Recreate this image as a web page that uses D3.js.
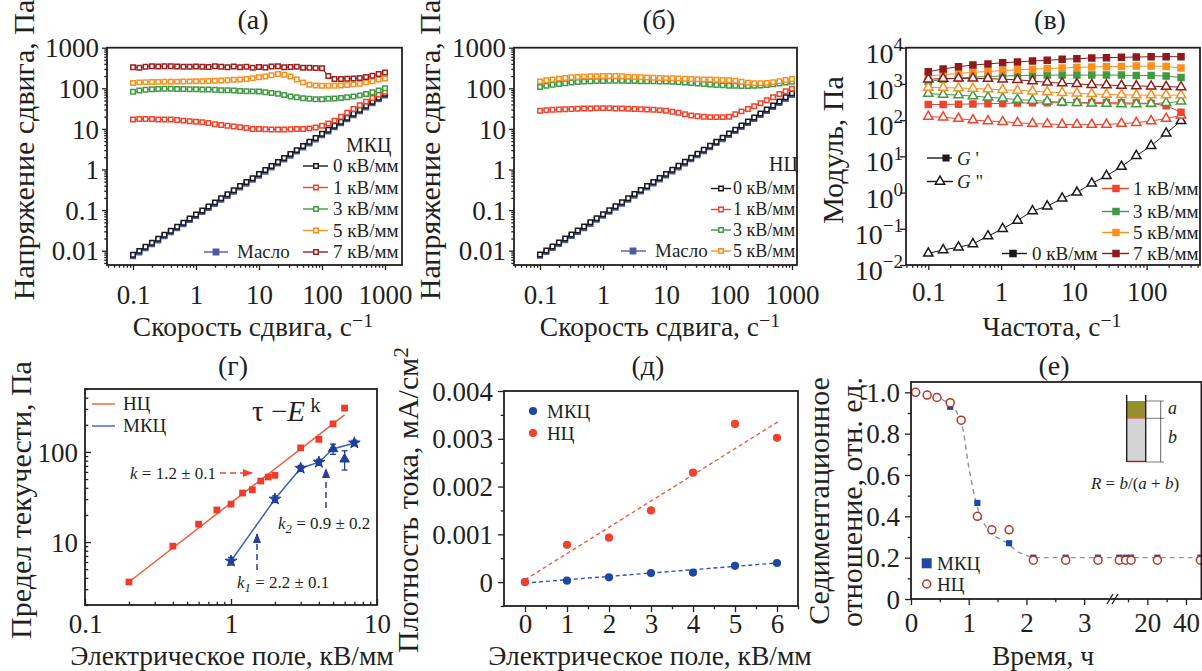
<!DOCTYPE html>
<html>
<head>
<meta charset="utf-8">
<script src="https://cdn.jsdelivr.net/npm/d3@7"></script>
<style>
  body { margin: 0; background: #fff; }
  text { font-family: "Liberation Serif", "Times New Roman", serif; fill: #231f20; }
</style>
</head>
<body>
<svg id="fig" width="1202" height="671"></svg>
<script>
// ---------- data ----------
// (а), (б): shear stress vs shear rate
const shearRate = [0.1, 0.126, 0.158, 0.2, 0.251, 0.316, 0.398, 0.501, 0.631, 0.794,
  1, 1.26, 1.58, 2, 2.51, 3.16, 3.98, 5.01, 6.31, 7.94,
  10, 12.6, 15.8, 20, 25.1, 31.6, 39.8, 50.1, 63.1, 79.4,
  100, 126, 158, 200, 251, 316, 398, 501, 631, 794, 1000];

const oilA = [0.0073, 0.0091, 0.0115, 0.0145, 0.018, 0.0228, 0.0285, 0.036, 0.045, 0.057,
  0.072, 0.09, 0.113, 0.142, 0.18, 0.225, 0.285, 0.36, 0.45, 0.56,
  0.71, 0.89, 1.12, 1.41, 1.77, 2.2, 2.8, 3.5, 4.4, 5.5,
  7.0, 8.7, 11, 13.8, 17.3, 21.7, 27.2, 34, 42.8, 54, 67];
const mkc0 = [0.0079, 0.0099, 0.0125, 0.0157, 0.0197, 0.0248, 0.031, 0.039, 0.049, 0.062,
  0.078, 0.098, 0.123, 0.155, 0.195, 0.245, 0.31, 0.39, 0.49, 0.61,
  0.77, 0.97, 1.22, 1.53, 1.92, 2.4, 3.0, 3.8, 4.8, 6.0,
  7.6, 9.5, 11.9, 15, 18.8, 23.6, 29.6, 37, 46.5, 58.5, 73];
const mkc1 = [17, 17.5, 17.5, 17.5, 17, 17, 17, 16.5, 16, 15.5,
  15, 14.5, 14, 13, 12.5, 12, 11.5, 11, 10.5, 10,
  10, 9.8, 9.7, 9.7, 9.7, 9.8, 9.9, 10, 10.3, 10.8,
  12, 13.5, 16, 20, 25, 31, 38, 47, 58, 70, 82];
const mkc3 = [82, 88, 92, 95, 96, 97, 97, 96, 96, 95,
  95, 94, 93, 92, 90, 89, 88, 86, 85, 84,
  83, 80, 77, 73, 68, 63, 60, 57, 55, 54,
  54, 55, 56, 58, 60, 63, 67, 72, 80, 88, 100];
const mkc5 = [135, 140, 142, 143, 144, 145, 145, 146, 147, 148,
  150, 150, 152, 153, 155, 157, 163, 165, 170, 178,
  188, 195, 210, 225, 215, 195, 165, 140, 122, 117,
  115, 115, 115, 117, 120, 125, 130, 140, 150, 165, 175];
const mkc7 = [330, 320, 340, 350, 345, 350, 350, 345, 340, 340,
  345, 340, 335, 350, 340, 330, 345, 330, 340, 320,
  335, 325, 345, 350, 330, 335, 340, 320, 320, 315,
  310, 200, 170, 170, 172, 175, 180, 190, 205, 225, 245];

const oilB = [0.0075, 0.0093, 0.0117, 0.0147, 0.0183, 0.023, 0.029, 0.036, 0.046, 0.058,
  0.073, 0.091, 0.115, 0.144, 0.182, 0.228, 0.287, 0.36, 0.455, 0.57,
  0.72, 0.9, 1.13, 1.42, 1.79, 2.25, 2.85, 3.55, 4.5, 5.6,
  7.1, 8.9, 11.2, 14, 17.6, 22, 27.7, 34.8, 43.6, 55, 69];
const nc0 = [0.0081, 0.0101, 0.0127, 0.016, 0.02, 0.025, 0.0315, 0.0395, 0.05, 0.063,
  0.079, 0.099, 0.125, 0.157, 0.197, 0.248, 0.312, 0.393, 0.495, 0.62,
  0.78, 0.98, 1.23, 1.55, 1.95, 2.45, 3.05, 3.85, 4.85, 6.1,
  7.7, 9.6, 12.1, 15.2, 19.1, 24, 30, 37.8, 47.5, 60, 75];
const nc1 = [28, 29, 29.5, 30, 30.5, 31, 31.5, 32, 32, 32.5,
  32.5, 32.5, 32, 32, 31.5, 31, 30.5, 30, 29.5, 29,
  28, 26.5, 25, 23, 21.5, 20.5, 20, 19.5, 19.5, 19.5,
  20, 23, 27, 31, 36, 43, 51, 60, 72, 85, 98];
const nc3 = [107, 115, 122, 128, 134, 139, 143, 146, 149, 151,
  152, 153, 153, 153, 152, 151, 150, 149, 148, 147,
  146, 144, 142, 139, 135, 131, 127, 124, 121, 118,
  116, 115, 114, 114, 115, 117, 120, 125, 131, 138, 145];
const nc5 = [148, 158, 166, 173, 180, 186, 190, 194, 197, 199,
  200, 202, 200, 197, 194, 191, 188, 185, 182, 180,
  178, 176, 174, 172, 170, 168, 166, 164, 162, 160,
  157, 153, 145, 138, 134, 133, 136, 142, 150, 160, 170];

// (в): moduli vs frequency
const freq = [0.1, 0.16, 0.26, 0.41, 0.66, 1.05, 1.68, 2.7, 4.3, 6.9, 11, 17.6, 28, 45, 72, 115, 185, 296];
const gp1 = [270, 270, 275, 280, 285, 290, 295, 300, 300, 305, 305, 305, 305, 300, 295, 290, 250, 165];
const gp3 = [1150, 1350, 1450, 1550, 1600, 1650, 1700, 1700, 1750, 1750, 1750, 1750, 1750, 1750, 1700, 1700, 1650, 1500];
const gp5 = [1650, 1800, 1950, 2100, 2200, 2350, 2450, 2550, 2650, 2750, 2850, 2950, 3000, 3050, 3100, 3100, 3050, 2750];
const gp7 = [2180, 2580, 2990, 3330, 3550, 3860, 4030, 4290, 4480, 4770, 4980, 5190, 5300, 5420, 5530, 5650, 5650, 5650];
const gpp0 = [0.021, 0.026, 0.031, 0.038, 0.063, 0.10, 0.17, 0.31, 0.42, 0.69, 1.01, 1.8, 2.9, 5.2, 10.4, 19.6, 43, 96];
const gpp1 = [125, 120, 110, 100, 95, 90, 85, 80, 78, 76, 75, 75, 76, 80, 85, 95, 110, 135];
const gpp3 = [540, 510, 490, 460, 430, 400, 370, 350, 330, 310, 300, 290, 285, 280, 280, 285, 300, 330];
const gpp5 = [800, 790, 770, 750, 720, 690, 660, 630, 600, 570, 550, 530, 510, 500, 490, 490, 490, 490];
const gpp7 = [1350, 1400, 1420, 1420, 1400, 1350, 1300, 1200, 1100, 1050, 1000, 950, 930, 900, 880, 860, 840, 820];

// (г): yield stress vs field
const fieldNC = [0.2, 0.4, 0.6, 0.8, 1.0, 1.2, 1.4, 1.6, 1.8, 2.0, 3, 4, 5, 6];
const yieldNC = [3.6, 9.0, 15.8, 22.7, 26.4, 35, 38, 47.6, 52.7, 55, 111, 138, 205, 307];
const fitNCx = [0.2, 6];
const fitNCy = [3.6, 258];
const fieldMKC = [1, 2, 3, 4, 5, 6, 7];
const yieldMKC = [6.15, 30, 66, 77, 108, 83, 126];
const errMKC = [0.6, 2.5, 5, 6, 14, 20, 9];
const shapeMKC = ["star", "star", "star", "star", "tri", "tri", "star"];

// (д): current density vs field
const fieldJ = [0, 1, 2, 3, 4, 5, 6];
const currentMKC = [0, 0.00003, 0.0001, 0.00019, 0.0002, 0.00034, 0.0004];
const currentNC = [0, 0.00078, 0.00093, 0.0015, 0.00229, 0.00331, 0.00302];
const fitJNCx = [0, 6.05], fitJNCy = [0.00005, 0.00337];
const fitJMKCx = [0, 6], fitJMKCy = [-0.00002, 0.0004];

// (е): sedimentation ratio vs time
const timeMKC = [0.68, 1.15, 1.7, 2.12, 2.68, 3.24, 6.2, 9.0, 11.6, 25.2, 47.5];
const sedMKC = [0.93, 0.465, 0.27, 0.2, 0.2, 0.2, 0.2, 0.2, 0.2, 0.2, 0.2];
const timeNC = [0.08, 0.28, 0.45, 0.68, 0.87, 1.15, 1.4, 1.7, 2.12, 2.68, 3.24, 6.2, 9.0, 11.6, 25.2, 47.5];
const sedNC = [1.0, 0.987, 0.975, 0.95, 0.865, 0.40, 0.335, 0.335, 0.188, 0.188, 0.188, 0.188, 0.188, 0.188, 0.188, 0.188];
const sedFitT = [0.08, 0.3, 0.5, 0.68, 0.8, 0.9, 1.0, 1.13, 1.33, 1.66, 1.89, 2.24, 3.24, 48];
const sedFitR = [1.0, 0.99, 0.97, 0.94, 0.9, 0.82, 0.64, 0.466, 0.337, 0.272, 0.223, 0.2, 0.2, 0.2];

// tick labels
const ticksShear = [0.1, 1, 10, 100, 1000];
const ticksStress = [0.01, 0.1, 1, 10, 100, 1000];
const ticksFreq = [0.1, 1, 10, 100];
const ticksModExp = [-2, -1, 0, 1, 2, 3, 4];
const ticksFieldLog = [0.1, 1, 10];
const ticksYield = [10, 100];
const ticksFieldLin = [0, 1, 2, 3, 4, 5, 6];
const ticksCurrent = [0, 0.001, 0.002, 0.003, 0.004];
const ticksTime = [0, 1, 2, 3, 20, 40];
const ticksSed = [0, 0.2, 0.4, 0.6, 0.8, 1.0];

// ---------- drawing ----------
const FONT = '"Liberation Serif", "Times New Roman", serif';
const INK = "#231f20";
const TICK_FS = 27, XT_FS = 27.5, YT_FS = 30, LEG_FS = 19, PANEL_FS = 28;
const ROW1_TICK = 39, ROW1_TITLE = 336, ROW2_TITLE = 665;
const svg = d3.select("#fig");

const C = {
  black: "#1a1a1a", red: "#f1432c", green: "#3f9a42", orange: "#f8901f",
  dred: "#9e1e1e", oil: "#4d58a6", blue: "#1f47a3", line: "#3b62b8", brown: "#b3362b"
};

function frame(x0, y0, x1, y1) {
  svg.append("rect").attr("x", x0).attr("y", y0).attr("width", x1 - x0).attr("height", y1 - y0)
    .attr("fill", "none").attr("stroke", INK).attr("stroke-width", 1.8);
}

function logMinors(lo, hi) {
  const out = [];
  for (let e = Math.floor(Math.log10(lo)) - 1; e <= Math.ceil(Math.log10(hi)); e++) {
    for (let m = 2; m <= 9; m++) {
      const v = m * Math.pow(10, e);
      if (v >= lo && v <= hi) out.push(v);
    }
  }
  return out;
}

function styleAxis(g) {
  g.attr("font-family", FONT).attr("font-size", TICK_FS);
  g.select(".domain").remove();
  g.selectAll("line").attr("stroke", INK).attr("stroke-width", 1.3);
  g.selectAll("text").attr("fill", INK);
}

function xAxis(scale, y, majors, fmt, minors, tick, labelY) {
  const gmin = svg.append("g").attr("transform", `translate(0,${y})`)
    .call(d3.axisBottom(scale).tickValues(minors).tickSize(tick * 0.55).tickSizeOuter(0).tickFormat(""));
  styleAxis(gmin);
  const g = svg.append("g").attr("transform", `translate(0,${y})`)
    .call(d3.axisBottom(scale).tickValues(majors).tickSize(tick).tickSizeOuter(0).tickFormat(fmt));
  styleAxis(g);
  g.selectAll(".tick text").attr("y", labelY).attr("dy", 0);
  return g;
}

function yAxis(scale, x, majors, fmt, minors, tick, gap) {
  const gmin = svg.append("g").attr("transform", `translate(${x},0)`)
    .call(d3.axisLeft(scale).tickValues(minors).tickSize(tick * 0.55).tickSizeOuter(0).tickFormat(""));
  styleAxis(gmin);
  const g = svg.append("g").attr("transform", `translate(${x},0)`)
    .call(d3.axisLeft(scale).tickValues(majors).tickSize(tick).tickSizeOuter(0).tickFormat(fmt));
  styleAxis(g);
  g.selectAll(".tick text").attr("x", -gap).attr("dy", "0.34em");
  return g;
}

function label(x, y, size, opts = {}) {
  const t = svg.append("text").attr("x", x).attr("y", y).attr("font-size", size)
    .attr("text-anchor", opts.anchor || "middle");
  if (opts.rotate) t.attr("transform", `rotate(-90,${x},${y})`);
  if (opts.color) t.attr("fill", opts.color);
  return t;
}

function parts(t, list) {
  list.forEach(([s, st]) => {
    const sp = t.append("tspan").text(s);
    if (st === "i") sp.attr("font-style", "italic");
    if (st === "sup") sp.attr("dy", "-0.45em").attr("font-size", "0.72em");
    if (st === "sub") sp.attr("dy", "0.3em").attr("font-size", "0.75em").attr("font-style", "italic");
    if (st === "unsub") sp.attr("dy", "-0.22em");
  });
  return t;
}

const SYM = {
  square: d3.symbolSquare, tri: d3.symbolTriangle, circle: d3.symbolCircle, star: d3.symbolStar
};

function series(xs, ys, sx, sy, color, sym, filled, size, opt = {}) {
  const pts = xs.map((x, i) => [x, ys[i]]);
  const g = svg.append("g");
  if (opt.line !== false) {
    g.append("path").datum(pts)
      .attr("d", d3.line().x(d => sx(d[0])).y(d => sy(d[1])))
      .attr("fill", "none").attr("stroke", opt.lineColor || color).attr("stroke-width", opt.lw || 1.2);
  }
  g.selectAll("path.m").data(pts).join("path").attr("class", "m")
    .attr("transform", d => `translate(${sx(d[0])},${sy(d[1])})`)
    .attr("d", d3.symbol(SYM[sym], size))
    .attr("fill", filled ? color : "#fff")
    .attr("stroke", opt.stroke || color).attr("stroke-width", opt.sw === undefined ? 1.5 : opt.sw);
  return g;
}

function legendRow(x1, x2, mx, y, color, sym, filled, size, txt, tx, fs) {
  svg.append("line").attr("x1", x1).attr("x2", x2).attr("y1", y).attr("y2", y)
    .attr("stroke", color).attr("stroke-width", 1.4);
  if (sym) {
    svg.append("path").attr("transform", `translate(${mx},${y})`).attr("d", d3.symbol(SYM[sym], size)())
      .attr("fill", filled ? color : "#fff").attr("stroke", color).attr("stroke-width", 1.5);
  }
  return svg.append("text").attr("x", tx).attr("y", y + fs * 0.33).attr("font-size", fs).text(txt);
}

const fmtPlain = d => String(d);
const minus = s => s.replace("-", "\u2212");

// ===== panel (а) =====
{
  const L = 107, T = 47.7, R = 402, B = 265;
  const x = d3.scaleLog().domain([Math.pow(10, -1 - 26 / 63), Math.pow(10, 3 + 17 / 63)]).range([L, R]);
  const y = d3.scaleLog().domain([Math.pow(10, -2 - 14.3 / 40.6), 1000]).range([B, T]);
  series(shearRate, oilA, x, y, C.oil, "square", true, 22);
  series(shearRate, mkc0, x, y, C.black, "square", false, 20);
  series(shearRate, mkc1, x, y, C.red, "square", false, 20);
  series(shearRate, mkc3, x, y, C.green, "square", false, 20);
  series(shearRate, mkc5, x, y, C.orange, "square", false, 20);
  series(shearRate, mkc7, x, y, C.dred, "square", false, 20);
  frame(L, T, R, B);
  xAxis(x, B, ticksShear, fmtPlain, logMinors(x.domain()[0], x.domain()[1]), 5, ROW1_TICK);
  yAxis(y, L, ticksStress, fmtPlain, logMinors(y.domain()[0], y.domain()[1]), 5, 8);
  label(253, 29, PANEL_FS).text("(a)");
  label(34, 150, YT_FS, { rotate: true }).text("Напряжение сдвига, Па");
  parts(label(253, ROW1_TITLE, XT_FS), [["Скорость сдвига, с"], ["\u22121", "sup"]]);
  svg.append("text").attr("x", 346).attr("y", 151.5).attr("font-size", 20).text("МКЦ");
  const rows = [[C.black, "0 кВ/мм", 166], [C.red, "1 кВ/мм", 187.5], [C.green, "3 кВ/мм", 209],
    [C.orange, "5 кВ/мм", 230.5], [C.dred, "7 кВ/мм", 252]];
  rows.forEach(([c, t, yy]) => legendRow(303, 328, 316, yy, c, "square", false, 20, t, 333, LEG_FS));
  legendRow(204, 228, 216, 252, C.oil, "square", true, 28, "Масло", 237, LEG_FS);
}

// ===== panel (б) =====
{
  const L = 514, T = 47.7, R = 797, B = 265;
  const x = d3.scaleLog().domain([Math.pow(10, -1 - 26 / 63), Math.pow(10, 3 + 5 / 63)]).range([L, R]);
  const y = d3.scaleLog().domain([Math.pow(10, -2 - 14.3 / 40.6), 1000]).range([B, T]);
  series(shearRate, oilB, x, y, C.oil, "square", true, 22);
  series(shearRate, nc0, x, y, C.black, "square", false, 20);
  series(shearRate, nc1, x, y, C.red, "square", false, 20);
  series(shearRate, nc3, x, y, C.green, "square", false, 20);
  series(shearRate, nc5, x, y, C.orange, "square", false, 20);
  frame(L, T, R, B);
  xAxis(x, B, ticksShear, fmtPlain, logMinors(x.domain()[0], x.domain()[1]), 5, ROW1_TICK);
  yAxis(y, L, ticksStress, fmtPlain, logMinors(y.domain()[0], y.domain()[1]), 5, 8);
  label(659, 29, PANEL_FS).text("(б)");
  label(440, 150, YT_FS, { rotate: true }).text("Напряжение сдвига, Па");
  parts(label(660, ROW1_TITLE, XT_FS), [["Скорость сдвига, с"], ["\u22121", "sup"]]);
  svg.append("text").attr("x", 798).attr("y", 170.5).attr("font-size", 20).attr("text-anchor", "end").text("НЦ");
  const rows = [[C.black, "0 кВ/мм", 188.5], [C.red, "1 кВ/мм", 209.5], [C.green, "3 кВ/мм", 230],
    [C.orange, "5 кВ/мм", 251]];
  rows.forEach(([c, t, yy]) => legendRow(711, 731, 721, yy, c, "square", false, 20, t, 733, 18));
  legendRow(621, 646, 633, 251, C.oil, "square", true, 28, "Масло", 655, LEG_FS);
}

// ===== panel (в) =====
{
  const L = 906, T = 47.7, R = 1200, B = 265;
  const x = d3.scaleLog().domain([Math.pow(10, -1 - 22.3 / 72.8), Math.pow(10, 2 + 53.3 / 72.8)]).range([L, R]);
  const y = d3.scaleLog().domain([1e-2, 1e4]).range([B, T]);
  series(freq, gpp0, x, y, C.black, "tri", false, 38, { lw: 1 });
  series(freq, gpp1, x, y, C.red, "tri", false, 38, { lw: 1 });
  series(freq, gp1, x, y, C.red, "square", true, 36, { lw: 1 });
  series(freq, gpp3, x, y, C.green, "tri", false, 38, { lw: 1 });
  series(freq, gp3, x, y, C.green, "square", true, 36, { lw: 1 });
  series(freq, gpp5, x, y, C.orange, "tri", false, 38, { lw: 1 });
  series(freq, gp5, x, y, C.orange, "square", true, 36, { lw: 1 });
  series(freq, gpp7, x, y, "#8e1b1b", "tri", false, 38, { lw: 1 });
  series(freq, gp7, x, y, "#8e1b1b", "square", true, 36, { lw: 1 });
  frame(L, T, R, B);
  xAxis(x, B, ticksFreq, fmtPlain, logMinors(x.domain()[0], x.domain()[1]), 5, 36);
  const ya = yAxis(y, L, ticksModExp.map(e => Math.pow(10, e)), "", [], 6, 3);
  ya.selectAll(".tick text").each(function (d, i) {
    const t = d3.select(this).attr("dy", "0.52em").attr("font-size", 28);
    t.append("tspan").text("10");
    t.append("tspan").attr("dy", "-0.62em").attr("font-size", 19).text(minus(String(ticksModExp[i])));
  });
  label(1050, 29, PANEL_FS).text("(в)");
  label(843, 150, YT_FS, { rotate: true }).text("Модуль, Па");
  parts(label(1052, ROW1_TITLE, XT_FS), [["Частота, с"], ["\u22121", "sup"]]);
  legendRow(927, 952, 946, 158, C.black, "square", true, 32, "", 957, LEG_FS);
  parts(svg.append("text").attr("x", 957).attr("y", 164.5).attr("font-size", 19), [["G", "i"], [" '"]]);
  legendRow(927, 953, 940, 181.5, C.black, "tri", false, 38, "", 957, LEG_FS);
  parts(svg.append("text").attr("x", 957).attr("y", 188).attr("font-size", 19), [["G", "i"], [" \""]]);
  const rows = [[C.red, "1 кВ/мм", 188.5], [C.green, "3 кВ/мм", 211.5], [C.orange, "5 кВ/мм", 232.5],
    ["#8e1b1b", "7 кВ/мм", 253.5]];
  rows.forEach(([c, t, yy]) => legendRow(1102, 1129, 1116, yy, c, "square", true, 36, t, 1133, LEG_FS));
  legendRow(1002, 1027, 1013, 253.5, C.black, "square", true, 36, "0 кВ/мм", 1032, LEG_FS);
}

// ===== panel (г) =====
{
  const L = 85, T = 389, R = 377, B = 605;
  const x = d3.scaleLog().domain([0.1, 10]).range([L, R]);
  const y = d3.scaleLog().domain([2, 500]).range([B, T]);
  svg.append("path").datum(fitNCx.map((v, i) => [v, fitNCy[i]]))
    .attr("d", d3.line().x(d => x(d[0])).y(d => y(d[1])))
    .attr("fill", "none").attr("stroke", "#f25a3c").attr("stroke-width", 1.5);
  series(fieldNC, yieldNC, x, y, "#ee3b2a", "square", true, 46, { line: false, sw: 0 });
  const lineIdx = [0, 1, 2, 3, 4, 6];
  svg.append("path").datum(lineIdx.map(i => [fieldMKC[i], yieldMKC[i]]))
    .attr("d", d3.line().x(d => x(d[0])).y(d => y(d[1])))
    .attr("fill", "none").attr("stroke", C.line).attr("stroke-width", 1.5);
  const eb = svg.append("g").attr("stroke", "#1f3f9a").attr("stroke-width", 1.3);
  fieldMKC.forEach((f, i) => {
    const y1 = y(yieldMKC[i] + errMKC[i]), y2 = y(yieldMKC[i] - errMKC[i]);
    eb.append("line").attr("x1", x(f)).attr("x2", x(f)).attr("y1", y1).attr("y2", y2);
    eb.append("line").attr("x1", x(f) - 3).attr("x2", x(f) + 3).attr("y1", y1).attr("y2", y1);
    eb.append("line").attr("x1", x(f) - 3).attr("x2", x(f) + 3).attr("y1", y2).attr("y2", y2);
  });
  svg.append("g").selectAll("path").data(fieldMKC).join("path")
    .attr("transform", (d, i) => `translate(${x(d)},${y(yieldMKC[i])})`)
    .attr("d", (d, i) => d3.symbol(SYM[shapeMKC[i]], shapeMKC[i] === "tri" ? 40 : 42)())
    .attr("fill", "#1f3f9a").attr("stroke", "#1f3f9a").attr("stroke-width", 1);
  frame(L, T, R, B);
  xAxis(x, B, ticksFieldLog, fmtPlain, logMinors(0.1, 10), -6, 28);
  yAxis(y, L, ticksYield, fmtPlain, logMinors(2, 500), -6, 7);
  label(233, 375, PANEL_FS).text("(г)");
  label(31, 500, YT_FS, { rotate: true }).text("Предел текучести, Па");
  label(232, ROW2_TITLE, XT_FS).text("Электрическое поле, кВ/мм");
  legendRow(92, 115, null, 404, "#f25a3c", null, false, 0, "НЦ", 123, LEG_FS);
  legendRow(92, 115, null, 426, C.line, null, false, 0, "МКЦ", 123, LEG_FS);
  parts(svg.append("text").attr("x", 252).attr("y", 421).attr("font-size", 29),
    [["\u03c4 \u2212"], ["E", "i"], [" k", "sup"]]);
  const defs = svg.append("defs");
  [["ar", "#f0432c"], ["ab", "#2c3d9e"]].forEach(([id, c]) => {
    defs.append("marker").attr("id", id).attr("viewBox", "0 0 10 10").attr("refX", 9).attr("refY", 5)
      .attr("markerWidth", 7).attr("markerHeight", 7).attr("orient", "auto")
      .append("path").attr("d", "M0,1 L10,5 L0,9 Z").attr("fill", c);
  });
  const arrow = (x1, y1, x2, y2, c, m) => svg.append("line").attr("x1", x1).attr("y1", y1).attr("x2", x2).attr("y2", y2)
    .attr("stroke", c).attr("stroke-width", 1.5).attr("stroke-dasharray", "6,4").attr("marker-end", `url(#${m})`);
  arrow(220, 473, 252, 473, "#f0432c", "ar");
  arrow(326, 508, 326, 469, "#2c3d9e", "ab");
  arrow(257, 570, 257, 534, "#2c3d9e", "ab");
  parts(svg.append("text").attr("x", 130).attr("y", 479).attr("font-size", 17).attr("fill", "#f0432c"),
    [["k", "i"], [" = 1.2 \u00b1 0.1"]]);
  parts(svg.append("text").attr("x", 278).attr("y", 529).attr("font-size", 17).attr("fill", "#2c3d9e"),
    [["k", "i"], ["2", "sub"], [" = 0.9 \u00b1 0.2", "unsub"]]);
  parts(svg.append("text").attr("x", 237).attr("y", 588).attr("font-size", 17).attr("fill", "#2c3d9e"),
    [["k", "i"], ["1", "sub"], [" = 2.2 \u00b1 0.1", "unsub"]]);
}

// ===== panel (д) =====
{
  const L = 504, T = 391, R = 798, B = 606;
  const x = d3.scaleLinear().domain([-0.5, 6.5]).range([L, R]);
  const y = d3.scaleLinear().domain([-0.0005, 0.004]).range([B, T]);
  const dline = (xs, ys, c) => svg.append("path").datum(xs.map((v, i) => [v, ys[i]]))
    .attr("d", d3.line().x(d => x(d[0])).y(d => y(d[1])))
    .attr("fill", "none").attr("stroke", c).attr("stroke-width", 1.4).attr("stroke-dasharray", "4,3");
  dline(fitJNCx, fitJNCy, "#f05a40");
  dline(fitJMKCx, fitJMKCy, "#2f55b0");
  svg.append("g").selectAll("circle").data(fieldJ).join("circle")
    .attr("cx", d => x(d)).attr("cy", (d, i) => y(currentMKC[i])).attr("r", 4.1).attr("fill", C.blue);
  svg.append("g").selectAll("circle").data(fieldJ).join("circle")
    .attr("cx", d => x(d)).attr("cy", (d, i) => y(currentNC[i])).attr("r", 4.1).attr("fill", "#f0412b");
  frame(L, T, R, B);
  xAxis(x, B, ticksFieldLin, fmtPlain, [0.5, 1.5, 2.5, 3.5, 4.5, 5.5, 6.5], 6, 27);
  yAxis(y, L, ticksCurrent, fmtPlain, [-0.0005, 0.0005, 0.0015, 0.0025, 0.0035], 6, 11);
  label(648, 375, PANEL_FS).text("(д)");
  parts(label(418, 500, YT_FS, { rotate: true }), [["Плотность тока, мА/см"], ["2", "sup"]]);
  label(650, ROW2_TITLE, XT_FS).text("Электрическое поле, кВ/мм");
  svg.append("circle").attr("cx", 533).attr("cy", 411).attr("r", 4.1).attr("fill", C.blue);
  svg.append("text").attr("x", 547).attr("y", 417.5).attr("font-size", LEG_FS).text("МКЦ");
  svg.append("circle").attr("cx", 533).attr("cy", 433).attr("r", 4.1).attr("fill", "#f0412b");
  svg.append("text").attr("x", 547).attr("y", 439.5).attr("font-size", LEG_FS).text("НЦ");
}

// ===== panel (е) =====
{
  const L = 911, T = 382, R = 1202, B = 599;
  const x = d3.scaleLinear().domain([0, 3.5, 10, 48.3]).range([L, 1113, 1128, R]);
  const y = d3.scaleLinear().domain([0, 1.05]).range([B, T]);
  svg.append("path").datum(sedFitT.map((t, i) => [t, sedFitR[i]]))
    .attr("d", d3.line().x(d => x(d[0])).y(d => y(d[1])).curve(d3.curveMonotoneX))
    .attr("fill", "none").attr("stroke", "#8d949b").attr("stroke-width", 1.4).attr("stroke-dasharray", "5,4");
  series(timeMKC, sedMKC, x, y, C.blue, "square", true, 38, { line: false, sw: 0 });
  svg.append("g").selectAll("circle").data(timeNC).join("circle")
    .attr("cx", d => x(d)).attr("cy", (d, i) => y(sedNC[i])).attr("r", 4)
    .attr("fill", "#fff").attr("stroke", C.brown).attr("stroke-width", 1.5);
  svg.append("rect").attr("x", R - 1.5).attr("y", T).attr("width", 2).attr("height", B - T).attr("fill", INK);
  frame(L, T, R + 2, B);
  xAxis(x, B, ticksTime, fmtPlain, [0.5, 1.5, 2.5, 10, 30], 6, 33);
  [-3, 2].forEach(dx => svg.append("line").attr("x1", 1113 + dx - 3).attr("y1", B + 5).attr("x2", 1113 + dx + 3).attr("y2", B - 5)
    .attr("stroke", INK).attr("stroke-width", 1.3));
  yAxis(y, L, ticksSed, d => d === 0 ? "0" : d.toFixed(1), [0.1, 0.3, 0.5, 0.7, 0.9], 6, 11);
  label(1054, 375, PANEL_FS).text("(е)");
  label(829, 501, YT_FS, { rotate: true }).text("Седиментационное");
  label(862, 502, YT_FS, { rotate: true }).text("отношение, отн. ед.");
  label(1043, ROW2_TITLE, XT_FS).text("Время, ч");
  svg.append("rect").attr("x", 921.7).attr("y", 558.3).attr("width", 10).attr("height", 10).attr("fill", C.blue);
  svg.append("text").attr("x", 937).attr("y", 569.5).attr("font-size", LEG_FS).text("МКЦ");
  svg.append("circle").attr("cx", 926.7).attr("cy", 584).attr("r", 4).attr("fill", "#fff")
    .attr("stroke", C.brown).attr("stroke-width", 1.5);
  svg.append("text").attr("x", 937).attr("y", 590.5).attr("font-size", LEG_FS).text("НЦ");

  // inset: sedimentation tube schematic
  const ins = svg.append("g");
  ins.append("rect").attr("x", 1127).attr("y", 401).attr("width", 18.7).attr("height", 17.3).attr("fill", "#958f2c");
  ins.append("rect").attr("x", 1127).attr("y", 418.3).attr("width", 18.7).attr("height", 43.7).attr("fill", "#d2d4d5");
  ins.append("line").attr("x1", 1127).attr("x2", 1145.7).attr("y1", 418.3).attr("y2", 418.3).attr("stroke", "#e07070").attr("stroke-width", 1);
  ins.append("line").attr("x1", 1127).attr("x2", 1145.7).attr("y1", 461.5).attr("y2", 461.5).attr("stroke", "#a02020").attr("stroke-width", 1.4);
  [1126.7, 1145.7].forEach(xx => ins.append("line").attr("x1", xx).attr("x2", xx).attr("y1", 395).attr("y2", 462)
    .attr("stroke", INK).attr("stroke-width", 1.4));
  [401, 418.3, 462].forEach(yy => ins.append("line").attr("x1", 1146).attr("x2", 1164).attr("y1", yy).attr("y2", yy)
    .attr("stroke", INK).attr("stroke-width", 0.6));
  ins.append("line").attr("x1", 1160.7).attr("x2", 1160.7).attr("y1", 401).attr("y2", 462).attr("stroke", INK).attr("stroke-width", 0.7);
  ins.append("text").attr("x", 1168).attr("y", 414).attr("font-size", 18).attr("font-style", "italic").text("a");
  ins.append("text").attr("x", 1168).attr("y", 443).attr("font-size", 18).attr("font-style", "italic").text("b");
  parts(ins.append("text").attr("x", 1135).attr("y", 489).attr("font-size", 17).attr("text-anchor", "middle"),
    [["R", "i"], [" = "], ["b", "i"], ["/("], ["a", "i"], [" + "], ["b", "i"], [")"]]);
}
</script>
</body>
</html>
